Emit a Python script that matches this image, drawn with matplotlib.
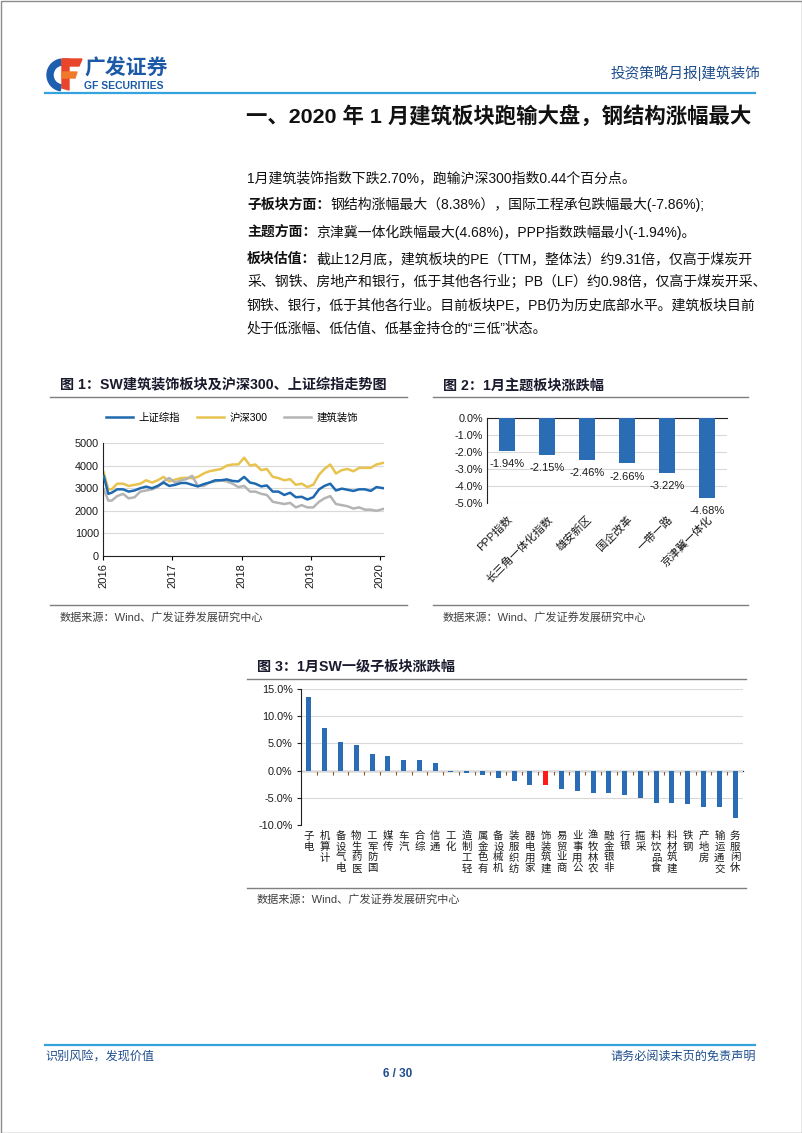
import matplotlib
matplotlib.use('Agg')
import matplotlib.pyplot as plt
import matplotlib.patches as mpatches
import matplotlib.dates as mdates
import pandas as pd
import numpy as np

FAM = ['Liberation Sans', 'Noto Sans CJK SC']
plt.rcParams['font.family'] = FAM
plt.rcParams['axes.unicode_minus'] = False

# ---------------- data ----------------
line_dates = (['2016-01-04', '2016-01-28']
              + ['2016-%02d-15' % m for m in range(2, 13)]
              + ['2017-%02d-15' % m for m in range(1, 13)]
              + ['2018-%02d-15' % m for m in range(1, 13)]
              + ['2019-%02d-15' % m for m in range(1, 13)]
              + ['2020-01-20'])

sh_composite = [3540, 2750,
                2800, 2950, 2950, 2850, 2900, 3000, 3070, 3000, 3100, 3250, 3100,
                3150, 3230, 3230, 3150, 3080, 3180, 3250, 3350, 3350, 3390, 3320, 3300,
                3500, 3250, 3200, 3080, 3120, 2850, 2850, 2700, 2800, 2600, 2620, 2500,
                2600, 2950, 3100, 3200, 2900, 2980, 2930, 2880, 2950, 2950, 2880, 3050,
                3000]
hs300 = [3700, 2950,
         2950, 3200, 3200, 3100, 3150, 3200, 3350, 3250, 3350, 3500, 3300,
         3380, 3450, 3460, 3440, 3500, 3650, 3750, 3800, 3850, 4000, 4050, 4050,
         4350, 4000, 4050, 3800, 3850, 3500, 3450, 3350, 3400, 3150, 3200, 3050,
         3150, 3600, 3850, 4050, 3650, 3800, 3850, 3750, 3900, 3900, 3900, 4050,
         4120]
construction = [2950, 2450,
                2450, 2650, 2750, 2550, 2600, 2850, 2900, 2950, 3050, 3300, 3450,
                3250, 3350, 3400, 3550, 3100, 3100, 3250, 3300, 3350, 3300, 3200, 3050,
                3100, 2850, 2850, 2750, 2700, 2400, 2350, 2300, 2350, 2150, 2250, 2150,
                2150, 2400, 2550, 2650, 2300, 2250, 2200, 2100, 2150, 2050, 2050, 2000,
                2080]
line_labels = ['上证综指', '沪深300', '建筑装饰']

theme_names = ['PPP指数', '长三角一体化指数', '雄安新区', '国企改革', '一带一路', '京津冀一体化']
theme_chg = [-1.94, -2.15, -2.46, -2.66, -3.22, -4.68]

sector_names = ['电子', '计算机', '电气设备', '医药生物', '国防军工', '传媒', '汽车', '综合',
                '通信', '化工', '轻工制造', '有色金属', '机械设备', '纺织服装', '家用电器',
                '建筑装饰', '商业贸易', '公用事业', '农林牧渔', '非银金融', '银行', '采掘',
                '食品饮料', '建筑材料', '钢铁', '房地产', '交通运输', '休闲服务']
sector_chg = [13.6, 7.8, 5.3, 4.7, 3.1, 2.6, 2.0, 2.0, 1.4, -0.2, -0.4, -0.9, -1.3,
              -1.9, -2.6, -2.7, -3.3, -3.7, -4.1, -4.2, -4.5, -5.0, -6.0, -6.0, -6.2,
              -6.7, -6.7, -8.8]
highlight_sector = '建筑装饰'

# ---------------- styling ----------------
W, H = 802, 1133
BLUE_TXT = '#1f4e8c'
LINE_BLUE = '#35a3dd'
BAR_BLUE = '#2a6db5'
GRID = '#d9d9d9'
TXT = '#1a1a1a'
C_SH = '#1f69b0'
C_HS = '#e8c350'
C_JZ = '#b4b4b4'

fig = plt.figure(figsize=(W / 100, H / 100), dpi=100)
fig.patch.set_facecolor('white')

pg = fig.add_axes([0, 0, 1, 1])
pg.set_xlim(0, W)
pg.set_ylim(H, 0)
pg.axis('off')


def box(l, t, r, b):
    return [l / W, 1 - b / H, (r - l) / W, (b - t) / H]


# page border
pg.add_patch(mpatches.Rectangle((0.5, 0.5), W - 1, H - 1, fill=False, ec='#8c8c8c', lw=1))

# ---- header ----
pg.add_patch(mpatches.Wedge((63, 75), 16, 100, 262, width=6, color='#1d5fae'))
pg.add_patch(mpatches.Polygon([(62, 59), (82, 59), (79, 66), (62, 66)], color='#e8452c'))
pg.add_patch(mpatches.Polygon([(62, 59), (69, 59), (69, 90), (62, 88)], color='#e8452c'))
pg.add_patch(mpatches.Polygon([(62, 72), (77, 72), (75, 78), (62, 78)], color='#f07a2a'))
pg.text(84, 69, '广发证券', fontsize=15, fontweight='bold', color='#1c5aa8', va='center', ha='left')
pg.text(84, 86, 'GF SECURITIES', fontsize=7.5, fontweight='bold', color='#1c5aa8', va='center', ha='left')
pg.text(760, 73, '投资策略月报|建筑装饰', fontsize=10.5, color=BLUE_TXT, va='center', ha='right')
pg.plot([45, 755], [93, 93], color=LINE_BLUE, lw=1.6)

pg.text(751, 116, '一、2020 年 1 月建筑板块跑输大盘，钢结构涨幅最大', fontsize=15.4,
        fontweight='bold', color='#111111', va='center', ha='right')

# ---- body text ----
renderer = fig.canvas.get_renderer()


def rich(x, y, parts, size=10):
    for s, bold in parts:
        t = pg.text(x, y, s, fontsize=size, fontweight='bold' if bold else 'normal',
                    color='#111111', va='center', ha='left')
        bb = t.get_window_extent(renderer)
        x = bb.x1


rich(247, 178, [('1月建筑装饰指数下跌2.70%，跑输沪深300指数0.44个百分点。', False)])
rich(247, 205, [('子板块方面：', True), ('钢结构涨幅最大（8.38%），国际工程承包跌幅最大(-7.86%);', False)])
rich(247, 232, [('主题方面：', True), ('京津冀一体化跌幅最大(4.68%)，PPP指数跌幅最小(-1.94%)。', False)])
rich(247, 259, [('板块估值：', True), ('截止12月底，建筑板块的PE（TTM，整体法）约9.31倍，仅高于煤炭开', False)])
rich(247, 282, [('采、钢铁、房地产和银行，低于其他各行业；PB（LF）约0.98倍，仅高于煤炭开采、', False)])
rich(247, 305, [('钢铁、银行，低于其他各行业。目前板块PE，PB仍为历史底部水平。建筑板块目前', False)])
rich(247, 329, [('处于低涨幅、低估值、低基金持仓的“三低”状态。', False)])

# ---- chart headers / source lines ----
def header(x_txt, y_txt, x0, x1, y_line, s):
    pg.text(x_txt, y_txt, s, fontsize=10.2, fontweight='bold', color='#1a1a2e', va='center', ha='left')
    pg.plot([x0, x1], [y_line, y_line], color='#7f7f7f', lw=1.0)


def source(x_txt, y_txt, x0, x1, y_line):
    pg.plot([x0, x1], [y_line, y_line], color='#7f7f7f', lw=1.0)
    pg.text(x_txt, y_txt, '数据来源：Wind、广发证券发展研究中心', fontsize=8, color='#404040',
            va='center', ha='left')


header(60, 385, 50, 407, 397, '图 1：SW建筑装饰板块及沪深300、上证综指走势图')
source(60, 617, 50, 407, 605)
header(443, 386, 433, 748, 397, '图 2：1月主题板块涨跌幅')
source(443, 617, 433, 748, 605)
header(257, 667, 247, 746, 679, '图 3：1月SW一级子板块涨跌幅')
source(257, 899, 247, 746, 888)

# ---- chart 1 ----
ax1 = fig.add_axes(box(103, 443, 384, 556))
d = pd.to_datetime(line_dates)
ax1.plot(d, sh_composite, color=C_SH, lw=1.8, label=line_labels[0], zorder=3)
ax1.plot(d, hs300, color=C_HS, lw=1.8, label=line_labels[1], zorder=2)
ax1.plot(d, construction, color=C_JZ, lw=1.8, label=line_labels[2], zorder=2)
ax1.set_ylim(0, 5000)
ax1.set_yticks(range(0, 5001, 1000))
ax1.set_xlim(pd.Timestamp('2015-12-31'), pd.Timestamp('2020-01-24'))
ax1.xaxis.set_major_locator(mdates.YearLocator())
ax1.xaxis.set_major_formatter(mdates.DateFormatter('%Y'))
ax1.grid(axis='y', color=GRID, lw=0.8)
ax1.set_axisbelow(True)
for s in ['top', 'right']:
    ax1.spines[s].set_visible(False)
for s in ['left', 'bottom']:
    ax1.spines[s].set_color('#222222')
    ax1.spines[s].set_linewidth(0.8)
ax1.tick_params(axis='y', labelsize=7.8, length=0, pad=3, labelcolor=TXT)
ax1.tick_params(axis='x', labelsize=8, length=3, pad=2, labelrotation=90, labelcolor=TXT)
fig.legend(loc='center', bbox_to_anchor=(232 / W, 1 - 418 / H), ncol=3, frameon=False,
           fontsize=7.5, handlelength=2.6, columnspacing=1.6, handletextpad=0.5)

# ---- chart 2 ----
ax2 = fig.add_axes(box(487, 418, 727, 503))
x2 = np.arange(len(theme_names))
ax2.bar(x2, theme_chg, width=0.42, color=BAR_BLUE, zorder=3)
for xi, v in zip(x2, theme_chg):
    ax2.annotate(f'{v:.2f}%', (xi, v), xytext=(0, -6), textcoords='offset points',
                 ha='center', va='top', fontsize=8, color=TXT)
ax2.set_ylim(-5, 0)
ax2.set_xlim(-0.5, len(theme_names) - 0.5)
ax2.set_yticks(np.arange(-5, 0.1, 1))
ax2.set_yticklabels([f'{v:.1f}%' for v in np.arange(-5, 0.1, 1)])
ax2.grid(axis='y', color=GRID, lw=0.8)
ax2.set_axisbelow(True)
ax2.set_xticks(x2)
ax2.set_xticklabels(theme_names, rotation=45, ha='right', va='top', rotation_mode='anchor')
ax2.tick_params(axis='x', length=0, pad=8, labelsize=8, labelcolor=TXT)
ax2.tick_params(axis='y', length=0, pad=3, labelsize=7.8, labelcolor=TXT)
for s in ['bottom', 'right']:
    ax2.spines[s].set_visible(False)
ax2.spines['top'].set_color('#222222')
ax2.spines['left'].set_color('#222222')
ax2.spines['top'].set_linewidth(0.8)
ax2.spines['left'].set_linewidth(0.8)

# ---- chart 3 ----
ax3 = fig.add_axes(box(301, 689, 743, 825))
x3 = np.arange(len(sector_names))
colors3 = ['#ff1a1a' if n == highlight_sector else BAR_BLUE for n in sector_names]
ax3.bar(x3, sector_chg, width=0.32, color=colors3, zorder=3)
ax3.set_ylim(-10, 15)
ax3.set_xlim(-0.5, len(sector_names) - 0.5)
yt = np.arange(-10, 15.1, 5)
ax3.set_yticks(yt)
ax3.set_yticklabels([f'{v:.1f}%' for v in yt])
ax3.grid(axis='y', color=GRID, lw=0.8)
ax3.set_axisbelow(True)
ax3.set_xticks(x3)
ax3.set_xticklabels(['\n'.join(reversed(n)) for n in sector_names], va='top', ha='center',
                    linespacing=1.12)
ax3.tick_params(axis='x', length=0, pad=4, labelsize=7.5, labelcolor=TXT)
ax3.tick_params(axis='y', length=3, pad=3, labelsize=7.8, labelcolor=TXT, color='#222222')
for s in ['bottom', 'right', 'top']:
    ax3.spines[s].set_visible(False)
ax3.spines['left'].set_color('#222222')
ax3.spines['left'].set_linewidth(0.8)
sec = ax3.secondary_xaxis(0.4)
sec.set_xticks(np.arange(0.5, len(sector_names) - 0.5, 1))
sec.tick_params(axis='x', length=3, labelbottom=False, color='#8a5a2a', direction='out')
sec.spines['bottom'].set_color('#222222')
sec.spines['bottom'].set_linewidth(0.9)

# ---- footer ----
pg.plot([45, 755], [1045, 1045], color=LINE_BLUE, lw=1.6)
pg.text(45, 1057, '识别风险，发现价值', fontsize=8.7, color=BLUE_TXT, va='center', ha='left')
pg.text(756, 1057, '请务必阅读末页的免责声明', fontsize=8.7, color=BLUE_TXT, va='center', ha='right')
pg.text(398, 1074, '6 / 30', fontsize=8.5, fontweight='bold', color=BLUE_TXT, va='center', ha='center')

fig.savefig('out.png', dpi=100)
